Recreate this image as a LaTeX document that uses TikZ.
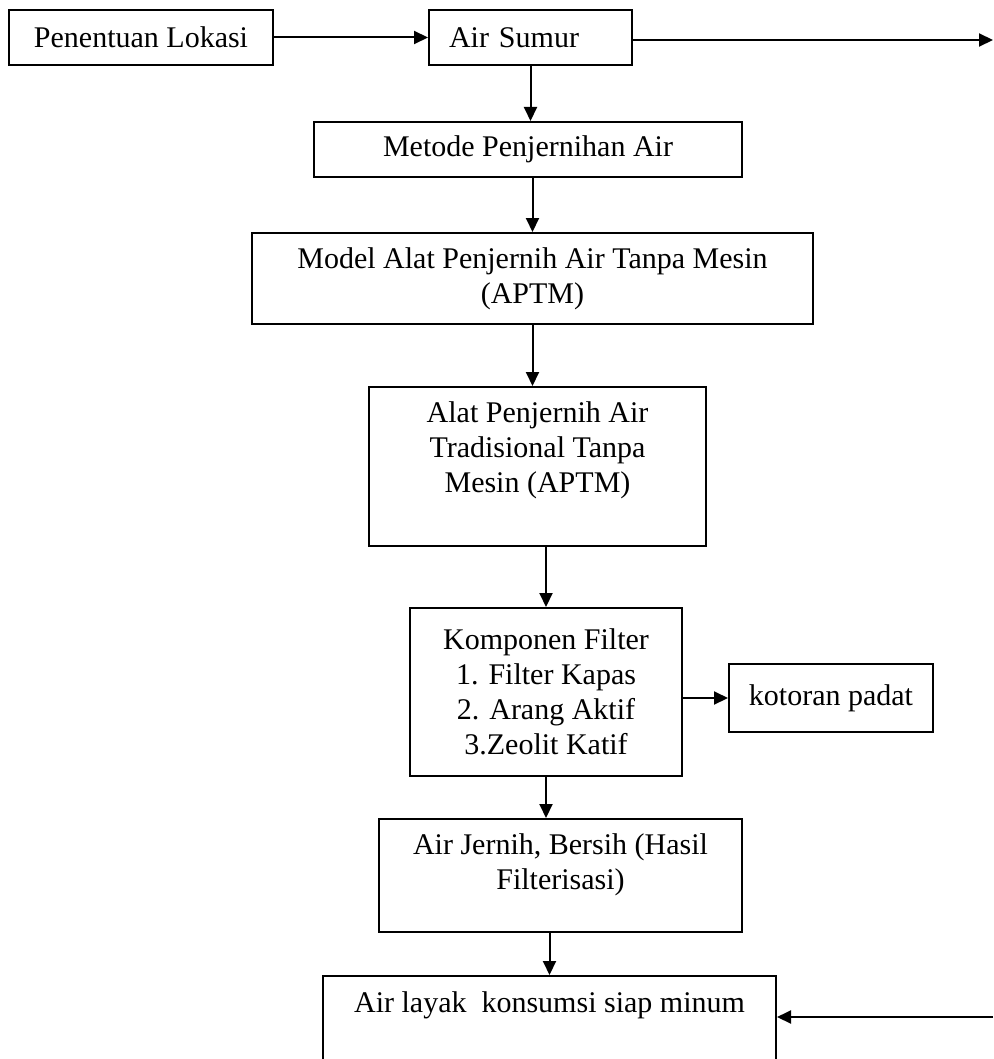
\documentclass[tikz,border=0pt]{standalone}
\usepackage{fontspec}
\setmainfont{Liberation Serif}
\usepackage{tikz}
\usetikzlibrary{
    arrows.meta,
    calc,
    positioning
}
\newcommand{\upx}{0.4pt}
\tikzset{
    box/.style={draw, line width=0.8pt, inner sep=0pt, align=center},
    txt/.style={inner sep=0pt, align=center},
    flow/.style={line width=0.8pt, -{Triangle[length=5.6pt, width=5.2pt]}}
}

\begin{document}
\begin{tikzpicture}[x=\upx, y=-\upx, font=\fontsize{12pt}{14pt}\selectfont]
    \useasboundingbox (0, 0) rectangle (993, 1059);
    % top row
    \node[box, minimum width=264*\upx, minimum height=55*\upx] (lokasi) at (141, 37.5) {Penentuan Lokasi};
    \node[box, text width=163*\upx, inner xsep=20*\upx, align=left, minimum height=55*\upx] (sumur) at (530.5, 37.5) {Air Sumur};
    \coordinate (kanan) at (993, 40);
    % main column
    \node[box, minimum width=428*\upx, minimum height=55*\upx] (metode) at (528, 149.5) {Metode Penjernihan Air};
    \node[box, minimum width=561*\upx, minimum height=91*\upx] (model) at (532.5, 278.5) {Model Alat Penjernih Air Tanpa Mesin\\(APTM)};
    \node[box, minimum width=337*\upx, minimum height=159*\upx] (alat) at (537.5, 466.5) {};
    \node[txt] (alattxt) at (537.5, 450) {Alat Penjernih Air\\Tradisional Tanpa\\Mesin (APTM)};
    \node[box, minimum width=272*\upx, minimum height=168*\upx] (komponen) at (546, 692) {Komponen Filter\\1. Filter Kapas\\2. Arang Aktif\\3.Zeolit Katif};
    \node[box, minimum width=204*\upx, minimum height=68*\upx] (kotoran) at (831, 698) {kotoran padat};
    \node[box, minimum width=363*\upx, minimum height=113*\upx] (jernih) at (560.5, 875.5) {};
    \node[txt] (jernihtxt) at (560.5, 864.5) {Air Jernih, Bersih (Hasil\\Filterisasi)};
    \node[box, minimum width=453*\upx, minimum height=124*\upx] (layak) at (549.5, 1038) {};
    \node[txt] (layaktxt) at (549.5, 1005) {Air layak~ konsumsi siap minum};
    \coordinate (balik) at (993, 1017);
    % arrows
    \draw[flow] (lokasi) -- (sumur);
    \draw[flow] (sumur.east |- kanan) -- (kanan);
    \draw[flow] (sumur.south) -- (sumur.south |- metode.north);
    \draw[flow] (model.north |- metode.south) -- (model.north);
    \draw[flow] (model.south) -- (model.south |- alat.north);
    \draw[flow] (komponen.north |- alat.south) -- (komponen.north);
    \draw[flow] (komponen.east |- kotoran.west) -- (kotoran.west);
    \draw[flow] (komponen.south) -- (komponen.south |- jernih.north);
    \draw[flow] (layak.north |- jernih.south) -- (layak.north);
    \draw[flow] (balik) -- (layak.east |- balik);
\end{tikzpicture}
\end{document}
